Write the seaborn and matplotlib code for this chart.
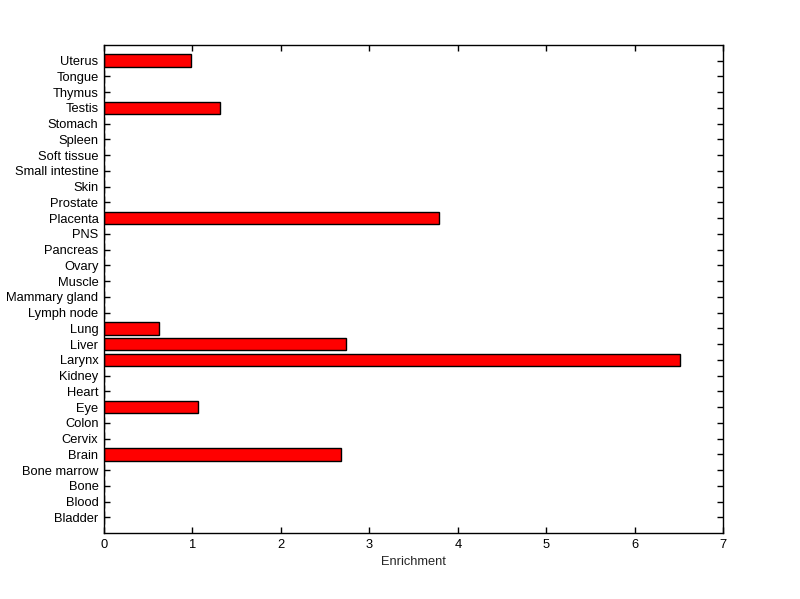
import matplotlib
matplotlib.use("Agg")
import matplotlib.pyplot as plt
import seaborn as sns
import pandas as pd

# tissues, bottom to top as in the chart
tissues = [
    "Bladder", "Blood", "Bone", "Bone marrow", "Brain", "Cervix", "Colon",
    "Eye", "Heart", "Kidney", "Larynx", "Liver", "Lung", "Lymph node",
    "Mammary gland", "Muscle", "Ovary", "Pancreas", "PNS", "Placenta",
    "Prostate", "Skin", "Small intestine", "Soft tissue", "Spleen",
    "Stomach", "Testis", "Thymus", "Tongue", "Uterus",
]
enrichment = [
    0, 0, 0, 0, 2.68, 0, 0,
    1.06, 0, 0, 6.51, 2.735, 0.62, 0,
    0, 0, 0, 0, 0, 3.785,
    0, 0, 0, 0, 0,
    0, 1.31, 0, 0, 0.98,
]

df = pd.DataFrame({"tissue": tissues, "enrichment": enrichment})
# seaborn puts the first category at the top, so reverse
df = df.iloc[::-1].reset_index(drop=True)

sns.set_style("white")
plt.rcParams["font.family"] = ["Liberation Sans", "DejaVu Sans"]

fig = plt.figure(figsize=(8, 5.99), dpi=100)
ax = fig.add_axes([0.13, 0.11, 0.774, 0.815])

sns.barplot(
    data=df,
    x="enrichment",
    y="tissue",
    orient="h",
    order=list(df["tissue"]),
    color="red",
    saturation=1,
    edgecolor="black",
    linewidth=1,
    width=0.8,
    errorbar=None,
    ax=ax,
)

ax.set_xlim(0, 7)
ax.set_ylim(len(tissues), -1)
ax.set_xticks(range(8))
ax.set_xlabel("Enrichment", fontsize=9.3)
ax.set_ylabel("")

ax.tick_params(direction="in", top=True, right=True, left=True, bottom=True,
               length=4.5, width=1, labelsize=9.3, colors="black", pad=4)
for s in ax.spines.values():
    s.set_visible(True)
    s.set_color("black")
    s.set_linewidth(1)

fig.savefig("out.png", dpi=100)
